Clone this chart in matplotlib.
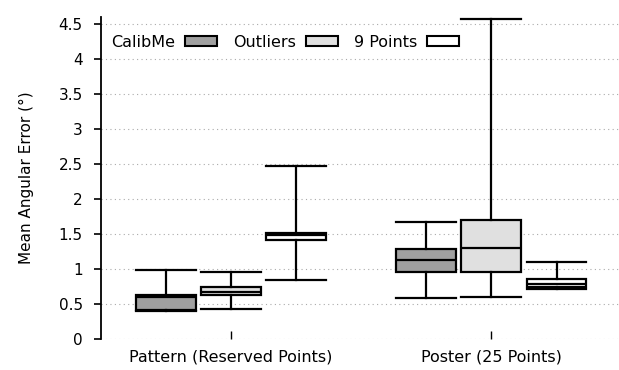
import matplotlib
matplotlib.use("Agg")
import matplotlib.pyplot as plt
from matplotlib.patches import Patch

# data (mean angular error, degrees)
groups = ["Pattern (Reserved Points)", "Poster (25 Points)"]
series = ["CalibMe", "Outliers", "9 Points"]
colors = ["#a0a0a0", "#e0e0e0", "#ffffff"]

# per series: [group1, group2] -> (lower whisker, q1, median, q3, upper whisker)
calibme = [(0.40, 0.41, 0.60, 0.625, 0.98), (0.58, 0.96, 1.13, 1.285, 1.67)]
outliers = [(0.43, 0.625, 0.66, 0.735, 0.955), (0.59, 0.96, 1.295, 1.695, 4.57)]
nine_points = [(0.84, 1.41, 1.485, 1.51, 2.47), (0.71, 0.735, 0.78, 0.855, 1.095)]
yticks = [0, 0.5, 1, 1.5, 2, 2.5, 3, 3.5, 4, 4.5]

all_series = [calibme, outliers, nine_points]
offsets = [-0.25, 0.0, 0.25]
box_w = 0.23

plt.rcParams['font.family'] = ['DejaVu Sans']
fig = plt.figure(figsize=(6.19, 3.70), dpi=100)
ax = fig.add_axes([0.163, 0.085, 0.837, 0.868])

for vals, off, col in zip(all_series, offsets, colors):
    stats = []
    for lo, q1, med, q3, hi in vals:
        stats.append({"whislo": lo, "q1": q1, "med": med, "q3": q3, "whishi": hi, "fliers": []})
    pos = [g + 1 + off for g in range(len(groups))]
    ax.bxp(stats, positions=pos, widths=box_w, patch_artist=True, showfliers=False,
           boxprops=dict(facecolor=col, edgecolor="black", linewidth=1.6),
           medianprops=dict(color="black", linewidth=1.6),
           whiskerprops=dict(color="black", linewidth=1.6),
           capprops=dict(color="black", linewidth=1.6),
           capwidths=box_w, manage_ticks=False)

ax.set_xlim(0.5, 2.49)
ax.set_ylim(0, 4.6)
ax.set_yticks(yticks)
ax.set_yticklabels([f"{t:g}" for t in yticks])
ax.set_xticks([1, 2])
ax.set_xticklabels(groups, fontsize=11.5)
ax.tick_params(axis="x", direction="in", length=6, width=1, pad=8)
ax.tick_params(axis="y", direction="out", length=5, width=1.2, labelsize=11, pad=8)
ax.yaxis.grid(True, linestyle=(0, (1, 3)), color="#aaaaaa", linewidth=0.8)
ax.set_axisbelow(True)
for s in ["top", "right", "bottom"]:
    ax.spines[s].set_visible(False)
ax.spines["left"].set_linewidth(1.3)
ax.set_ylabel("Mean Angular Error (°)", fontsize=11, labelpad=18)

handles = [Patch(facecolor=c, edgecolor="black", linewidth=1.5) for c in colors]
ax.legend(handles, series, loc="center left", ncol=3, frameon=False, markerfirst=False,
          fontsize=11.5, handlelength=2.0, handleheight=0.56, columnspacing=1.0,
          handletextpad=0.63, borderpad=0, borderaxespad=0,
          bbox_to_anchor=(0.019, 0.923))

fig.savefig("out.png", dpi=100)
